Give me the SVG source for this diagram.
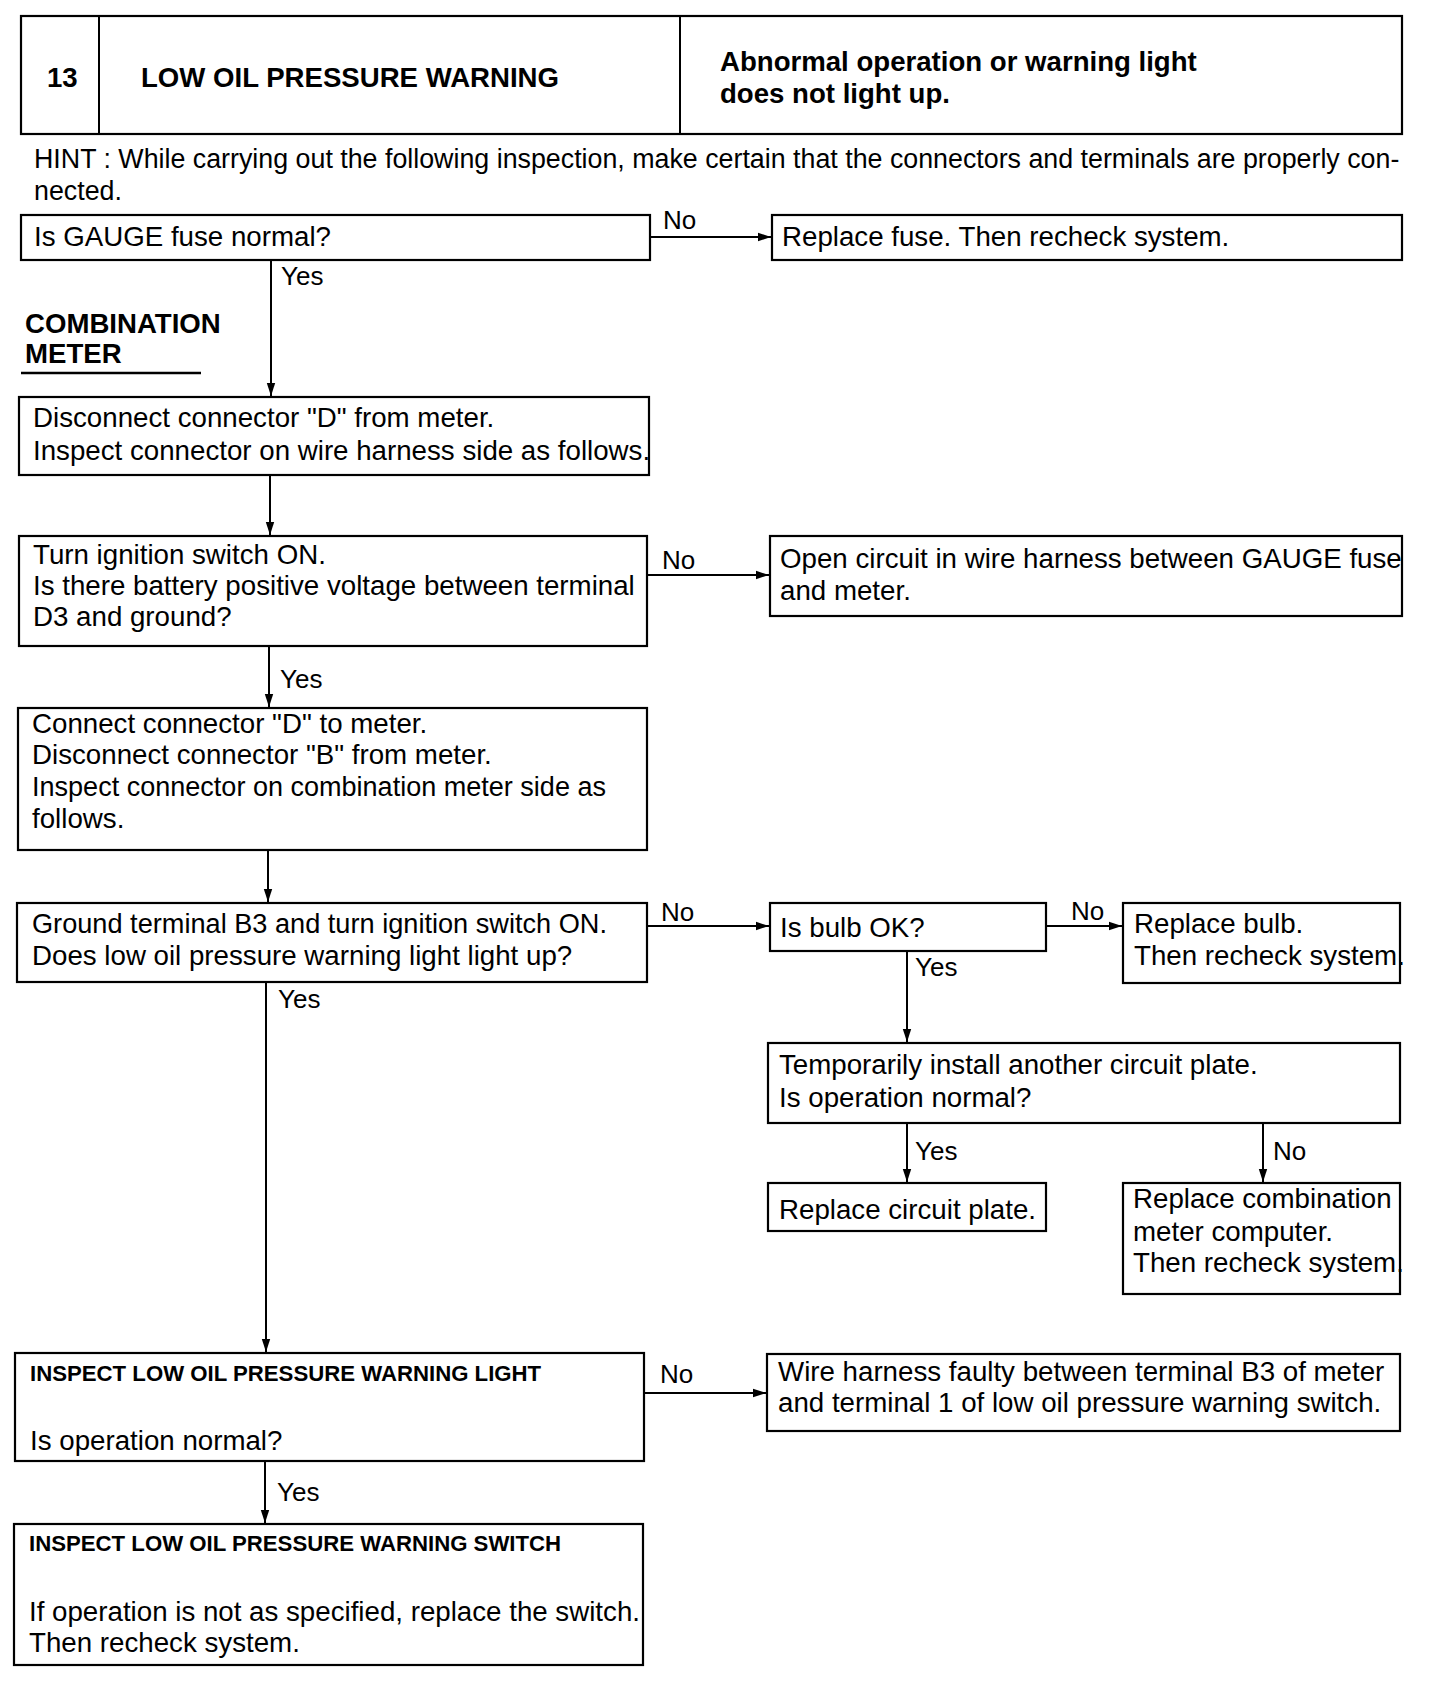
<svg xmlns="http://www.w3.org/2000/svg" width="1440" height="1682" viewBox="0 0 1440 1682">
<style>
text{font-family:"Liberation Sans",Arial,sans-serif;fill:#000}
.t{font-size:27.7px}
.h{font-size:26.8px}
.b{font-size:27.6px;font-weight:bold}
.s{font-size:22.2px;font-weight:bold}
.l{font-size:26px}
.box{fill:#fff;stroke:#000;stroke-width:2.2}
.c{fill:none;stroke:#000;stroke-width:2}
</style>
<defs>
<marker id="ah" markerUnits="userSpaceOnUse" markerWidth="13" markerHeight="10" refX="13" refY="5" orient="auto">
<path d="M0,0.8 L13,5 L0,9.2 z" fill="#000"/>
</marker>
</defs>
<rect width="1440" height="1682" fill="#fff"/>

<g id="header">
<rect class="box" x="21" y="16" width="1381" height="118" stroke-width="2.6"/>
<line x1="99" y1="16" x2="99" y2="134" stroke="#000" stroke-width="2"/>
<line x1="680" y1="16" x2="680" y2="134" stroke="#000" stroke-width="2"/>
<text class="b" x="47" y="87">13</text>
<text class="b" x="141" y="87">LOW OIL PRESSURE WARNING</text>
<text class="b" x="720" y="71">Abnormal operation or warning light</text>
<text class="b" x="720" y="103">does not light up.</text>
</g>

<g id="hint">
<text class="h" x="34" y="168">HINT : While carrying out the following inspection, make certain that the connectors and terminals are properly con-</text>
<text class="h" x="34" y="200">nected.</text>
</g>

<g id="section-label">
<text class="b" x="25" y="333">COMBINATION</text>
<text class="b" x="25" y="363">METER</text>
<line x1="21" y1="373" x2="201" y2="373" stroke="#000" stroke-width="2.4"/>
</g>

<g id="n-fuse">
<rect class="box" x="21" y="215" width="629" height="45"/>
<text class="t" x="34" y="246">Is GAUGE fuse normal?</text>
</g>
<g id="n-replace-fuse">
<rect class="box" x="772" y="215" width="630" height="45"/>
<text class="t" x="782" y="246">Replace fuse. Then recheck system.</text>
</g>
<g id="n-disconnect-d">
<rect class="box" x="19" y="397" width="630" height="78"/>
<text class="t" x="33" y="427">Disconnect connector "D" from meter.</text>
<text class="t" x="33" y="460">Inspect connector on wire harness side as follows.</text>
</g>
<g id="n-ignition">
<rect class="box" x="19" y="536" width="628" height="110"/>
<text class="t" x="33" y="564">Turn ignition switch ON.</text>
<text class="t" x="33" y="595">Is there battery positive voltage between terminal</text>
<text class="t" x="33" y="626">D3 and ground?</text>
</g>
<g id="n-open-circuit">
<rect class="box" x="770" y="536" width="632" height="80"/>
<text class="t" x="780" y="568">Open circuit in wire harness between GAUGE fuse</text>
<text class="t" x="780" y="600">and meter.</text>
</g>
<g id="n-connect-d">
<rect class="box" x="18" y="708" width="629" height="142"/>
<text class="t" x="32" y="733">Connect connector "D" to meter.</text>
<text class="t" x="32" y="764">Disconnect connector "B" from meter.</text>
<text class="t" x="32" y="796" textLength="574" lengthAdjust="spacingAndGlyphs">Inspect connector on combination meter side as</text>
<text class="t" x="32" y="828">follows.</text>
</g>
<g id="n-ground-b3">
<rect class="box" x="17" y="903" width="630" height="79"/>
<text class="t" x="32" y="933" textLength="575" lengthAdjust="spacingAndGlyphs">Ground terminal B3 and turn ignition switch ON.</text>
<text class="t" x="32" y="965">Does low oil pressure warning light light up?</text>
</g>
<g id="n-bulb">
<rect class="box" x="770" y="903" width="276" height="48"/>
<text class="t" x="780" y="937">Is bulb OK?</text>
</g>
<g id="n-replace-bulb">
<rect class="box" x="1123" y="903" width="277" height="80"/>
<text class="t" x="1134" y="933">Replace bulb.</text>
<text class="t" x="1134" y="965">Then recheck system.</text>
</g>
<g id="n-circuit-plate">
<rect class="box" x="768" y="1043" width="632" height="80"/>
<text class="t" x="779" y="1074">Temporarily install another circuit plate.</text>
<text class="t" x="779" y="1107">Is operation normal?</text>
</g>
<g id="n-replace-plate">
<rect class="box" x="768" y="1183" width="278" height="48"/>
<text class="t" x="779" y="1219">Replace circuit plate.</text>
</g>
<g id="n-replace-computer">
<rect class="box" x="1123" y="1183" width="277" height="111"/>
<text class="t" x="1133" y="1208">Replace combination</text>
<text class="t" x="1133" y="1241">meter computer.</text>
<text class="t" x="1133" y="1272">Then recheck system.</text>
</g>
<g id="n-inspect-light">
<rect class="box" x="15" y="1353" width="629" height="108"/>
<text class="s" x="30" y="1381">INSPECT LOW OIL PRESSURE WARNING LIGHT</text>
<text class="t" x="30" y="1450">Is operation normal?</text>
</g>
<g id="n-wire-faulty">
<rect class="box" x="767" y="1354" width="633" height="77"/>
<text class="t" x="778" y="1381">Wire harness faulty between terminal B3 of meter</text>
<text class="t" x="778" y="1412">and terminal 1 of low oil pressure warning switch.</text>
</g>
<g id="n-inspect-switch">
<rect class="box" x="14" y="1524" width="629" height="141"/>
<text class="s" x="29" y="1551">INSPECT LOW OIL PRESSURE WARNING SWITCH</text>
<text class="t" x="29" y="1621">If operation is not as specified, replace the switch.</text>
<text class="t" x="29" y="1652">Then recheck system.</text>
</g>

<g id="connectors">
<line class="c" x1="650" y1="237" x2="771" y2="237" marker-end="url(#ah)"/>
<text class="l" x="663" y="229">No</text>
<line class="c" x1="271" y1="260" x2="271" y2="396" marker-end="url(#ah)"/>
<text class="l" x="281" y="285">Yes</text>
<line class="c" x1="270" y1="475" x2="270" y2="535" marker-end="url(#ah)"/>
<line class="c" x1="647" y1="575" x2="769" y2="575" marker-end="url(#ah)"/>
<text class="l" x="662" y="569">No</text>
<line class="c" x1="269" y1="646" x2="269" y2="707" marker-end="url(#ah)"/>
<text class="l" x="280" y="688">Yes</text>
<line class="c" x1="268" y1="850" x2="268" y2="902" marker-end="url(#ah)"/>
<line class="c" x1="647" y1="926" x2="769" y2="926" marker-end="url(#ah)"/>
<text class="l" x="661" y="921">No</text>
<line class="c" x1="1046" y1="926" x2="1122" y2="926" marker-end="url(#ah)"/>
<text class="l" x="1071" y="920">No</text>
<line class="c" x1="907" y1="951" x2="907" y2="1042" marker-end="url(#ah)"/>
<text class="l" x="915" y="976">Yes</text>
<line class="c" x1="907" y1="1123" x2="907" y2="1182" marker-end="url(#ah)"/>
<text class="l" x="915" y="1160">Yes</text>
<line class="c" x1="1263" y1="1123" x2="1263" y2="1182" marker-end="url(#ah)"/>
<text class="l" x="1273" y="1160">No</text>
<line class="c" x1="266" y1="982" x2="266" y2="1352" marker-end="url(#ah)"/>
<text class="l" x="278" y="1008">Yes</text>
<line class="c" x1="644" y1="1393" x2="766" y2="1393" marker-end="url(#ah)"/>
<text class="l" x="660" y="1383">No</text>
<line class="c" x1="265" y1="1461" x2="265" y2="1523" marker-end="url(#ah)"/>
<text class="l" x="277" y="1501">Yes</text>
</g>
</svg>
